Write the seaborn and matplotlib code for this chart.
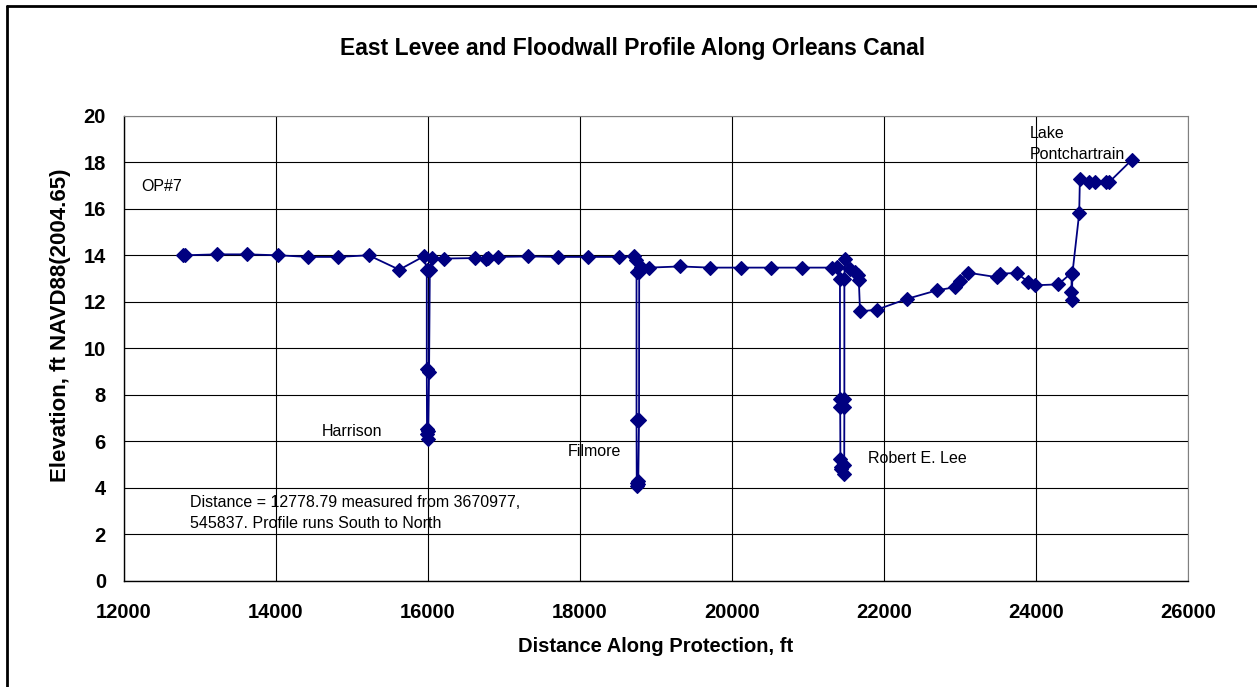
import numpy as np
import pandas as pd
import matplotlib
matplotlib.use("Agg")
import matplotlib.pyplot as plt
from matplotlib.lines import Line2D
import seaborn as sns

# Profile points, south to north (distance ft, elevation ft NAVD88)
distance = [
    12780, 12803, 13219, 13622, 14030, 14425, 14820, 15220, 15623, 15948,
    15985, 15985, 15988, 15992, 15996, 16005, 16015, 16025, 16049, 16211,
    16620, 16770, 16790, 16918, 17321, 17715, 18110, 18513, 18715, 18735,
    18745, 18745, 18748, 18752, 18760, 18768, 18778, 18780, 18800, 18913,
    19317, 19712, 20115, 20514, 20918, 21313, 21378, 21422, 21422, 21425,
    21428, 21430, 21440, 21470, 21478, 21480, 21480, 21480, 21488, 21553,
    21620, 21663, 21670, 21686, 21905, 22308, 22694, 22935, 23000, 23111,
    23484, 23528, 23747, 23900, 23988, 24295, 24471, 24468, 24475, 24480,
    24570, 24579, 24701, 24776, 24921, 24960, 25259,
]
elevation = [
    14.00, 14.00, 14.04, 14.04, 14.00, 13.93, 13.93, 14.00, 13.38, 13.96,
    13.35, 9.12, 6.53, 6.31, 6.10, 6.45, 9.00, 13.35, 13.90, 13.86,
    13.88, 13.85, 13.90, 13.93, 13.95, 13.93, 13.93, 13.93, 13.96, 13.80,
    13.28, 6.92, 4.23, 4.09, 4.15, 4.30, 6.90, 13.28, 13.50, 13.47,
    13.52, 13.47, 13.47, 13.47, 13.47, 13.47, 13.50, 13.00, 7.82, 7.46,
    5.24, 4.90, 4.80, 4.59, 5.00, 7.50, 7.82, 13.00, 13.86, 13.40,
    13.30, 13.15, 12.95, 11.59, 11.66, 12.13, 12.49, 12.63, 12.89, 13.25,
    13.06, 13.21, 13.24, 12.85, 12.71, 12.75, 13.25, 12.42, 12.09, 13.20,
    15.80, 17.28, 17.13, 17.13, 17.13, 17.13, 18.09,
]

# Annotations: (text, x, y)
notes = [
    ("OP#7", 12230, 16.95),
    ("Harrison", 14600, 6.42),
    ("Filmore", 17840, 5.55),
    ("Robert E. Lee", 21790, 5.28),
    ("Lake\nPontchartrain", 23920, 18.78),
    ("Distance = 12778.79 measured from 3670977,\n545837. Profile runs South to North", 12870, 2.92),
]

profile = pd.DataFrame({"Distance": distance, "Elevation": elevation})

sns.set_style("white")
plt.rcParams["font.family"] = ["Liberation Sans", "DejaVu Sans"]
plt.rcParams["text.color"] = "black"
plt.rcParams["axes.labelcolor"] = "black"
plt.rcParams["xtick.color"] = "black"
plt.rcParams["ytick.color"] = "black"

fig = plt.figure(figsize=(12.57, 6.87), dpi=100)
ax = fig.add_axes([0.0986, 0.1543, 0.8464, 0.6773])

sns.lineplot(data=profile, x="Distance", y="Elevation", sort=False, estimator=None,
             color="#000080", linewidth=1.3, marker="D", markersize=7,
             markeredgecolor="#000080", markeredgewidth=0.8, ax=ax)

ax.set_xlim(12000, 26000)
ax.set_ylim(0, 20)
ax.set_xticks(np.arange(12000, 26001, 2000))
ax.set_yticks(np.arange(0, 21, 2))
ax.grid(True, color="black", linewidth=0.8)
ax.set_axisbelow(True)
for side in ["top", "right"]:
    ax.spines[side].set_color("#808080")
    ax.spines[side].set_linewidth(0.8)
for side in ["left", "bottom"]:
    ax.spines[side].set_color("black")
    ax.spines[side].set_linewidth(1.0)

ax.tick_params(axis="both", direction="out", length=5, width=0.8, labelsize=14.5)
ax.tick_params(axis="x", pad=11)
ax.tick_params(axis="y", pad=8)
for lab in ax.get_xticklabels() + ax.get_yticklabels():
    lab.set_fontweight("bold")

ax.set_xlabel("Distance Along Protection, ft", fontsize=14.5, fontweight="bold")
ax.set_ylabel("Elevation, ft NAVD88(2004.65)", fontsize=16, fontweight="bold")
ax.xaxis.set_label_coords(0.5, -0.12)
ax.yaxis.set_label_coords(-0.050, 0.55)

for text, x, y in notes:
    ax.text(x, y, text, fontsize=11.5, ha="left", va="center", linespacing=1.55)

fig.text(0.503, 0.930, "East Levee and Floodwall Profile Along Orleans Canal",
         ha="center", va="center", fontsize=16.5, fontweight="bold")

# chart area border (only top and left edges fall inside the picture)
fig.add_artist(Line2D([0.0056, 0.0056], [0.0, 0.9917], transform=fig.transFigure,
                      color="black", linewidth=2))
fig.add_artist(Line2D([0.0056, 1.0], [0.9917, 0.9917], transform=fig.transFigure,
                      color="black", linewidth=2))

fig.savefig("out.png", dpi=100)
